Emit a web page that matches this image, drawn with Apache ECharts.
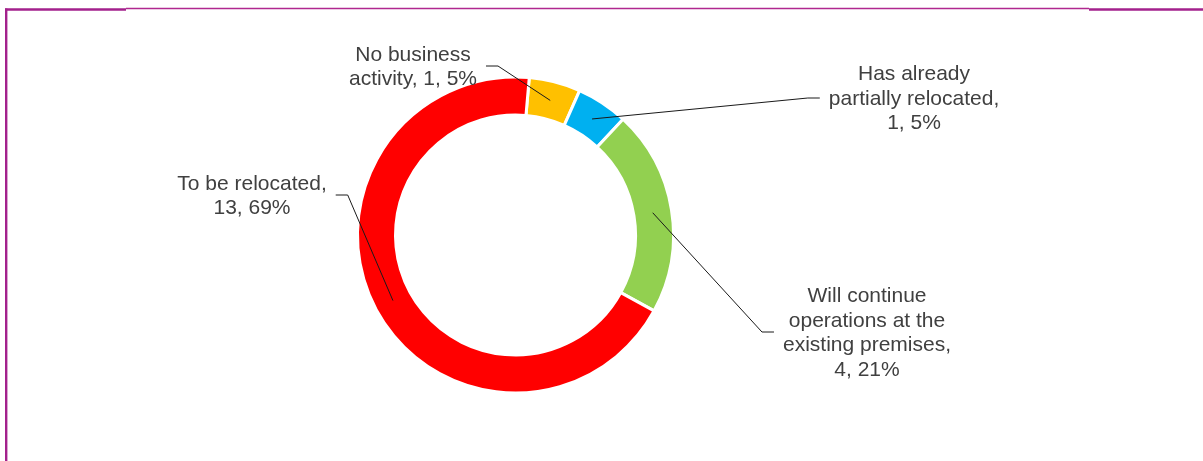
<!DOCTYPE html>
<html>
<head>
<meta charset="utf-8">
<script src="https://cdn.jsdelivr.net/npm/echarts@6/dist/echarts.min.js"></script>
<style>
  html, body { margin: 0; padding: 0; background: #ffffff; }
  #chart { width: 1203px; height: 461px; }
</style>
</head>
<body>
<div id="chart"></div>
<script>
// ---- Data ----
const categories = ['No business activity', 'Has already partially relocated', 'Will continue operations at the existing premises', 'To be relocated'];
const counts = [1, 1, 4, 13];
const percents = [5, 5, 21, 69];
const colors = ['#FFC000', '#00B0F0', '#92D050', '#FF0000'];

// ---- Label layout config (text wrapping and placement) ----
const labelLines = [['No business', 'activity'], ['Has already', 'partially relocated'], ['Will continue', 'operations at the', 'existing premises'], ['To be relocated']];
const valueOnNewLine = [false, true, true, true];
const labelCenters = [[413, 67], [914, 99], [867, 333], [252, 196]];

// ---- Geometry config ----
const CX = 515.5, CY = 235, R0 = 120, R1 = 158, START = 85;

const total = counts.reduce((a, b) => a + b, 0);
const chart = echarts.init(document.getElementById('chart'), null, { renderer: 'canvas' });

function labelText(p) {
  const i = p.dataIndex;
  const lines = labelLines[i].slice();
  const tail = p.value + ', ' + percents[i] + '%';
  if (valueOnNewLine[i]) {
    lines[lines.length - 1] += ',';
    lines.push(tail);
  } else {
    lines[lines.length - 1] += ', ' + tail;
  }
  return lines.join('\n');
}

function layoutLabel(params) {
  const i = params.dataIndex;
  const lx = labelCenters[i][0], ly = labelCenters[i][1];
  const w = params.labelRect.width;
  let before = 0;
  for (let k = 0; k < i; k++) before += counts[k];
  const midDeg = START - (before + counts[i] / 2) / total * 360;
  const rad = midDeg * Math.PI / 180;
  const rMid = (R0 + R1) / 2;
  const ax = CX + rMid * Math.cos(rad);
  const ay = CY - rMid * Math.sin(rad);
  const side = ax > lx ? 1 : -1;
  const ex = lx + side * (w / 2 + 9);
  const elbowX = ex + side * 12;
  return {
    x: lx, y: ly, align: 'center', verticalAlign: 'middle',
    labelLinePoints: [[ax, ay], [elbowX, ly - 1], [ex, ly - 1]]
  };
}

const pieData = categories.map((c, i) => ({ name: c, value: counts[i], itemStyle: { color: colors[i] } }));

const option = {
  animation: false,
  backgroundColor: '#ffffff',
  graphic: [
    { type: 'line', shape: { x1: 126, y1: 8.5, x2: 1089, y2: 8.5 }, style: { stroke: '#B0288F', lineWidth: 1.5 } },
    { type: 'line', shape: { x1: 5, y1: 9.5, x2: 126, y2: 9.5 }, style: { stroke: '#A3218C', lineWidth: 2.5 } },
    { type: 'line', shape: { x1: 1089, y1: 9.5, x2: 1203, y2: 9.5 }, style: { stroke: '#A3218C', lineWidth: 2.5 } },
    { type: 'line', shape: { x1: 6.2, y1: 8.5, x2: 6.2, y2: 461 }, style: { stroke: '#A3218C', lineWidth: 2.4 } }
  ],
  series: [
    {
      type: 'pie',
      z: 2,
      center: [CX, CY],
      radius: [R0, R1],
      startAngle: START,
      clockwise: true,
      silent: true,
      emphasis: { disabled: true },
      itemStyle: { borderColor: '#ffffff', borderWidth: 3 },
      label: { show: false },
      labelLine: { show: false },
      data: pieData
    },
    {
      type: 'pie',
      z: 5,
      center: [CX, CY],
      radius: [R0, R1],
      startAngle: START,
      clockwise: true,
      silent: true,
      avoidLabelOverlap: false,
      emphasis: { disabled: true },
      itemStyle: { color: 'rgba(0,0,0,0)', borderWidth: 0 },
      label: {
        show: true,
        position: 'outside',
        color: '#404040',
        fontFamily: 'Liberation Sans, Arial, sans-serif',
        fontSize: 21,
        lineHeight: 24.5,
        formatter: labelText
      },
      labelLine: { show: true, smooth: false, lineStyle: { color: '#1a1a1a', width: 1 } },
      labelLayout: layoutLabel,
      data: categories.map((c, i) => ({ name: c, value: counts[i] }))
    }
  ]
};
chart.setOption(option);
</script>
</body>
</html>
